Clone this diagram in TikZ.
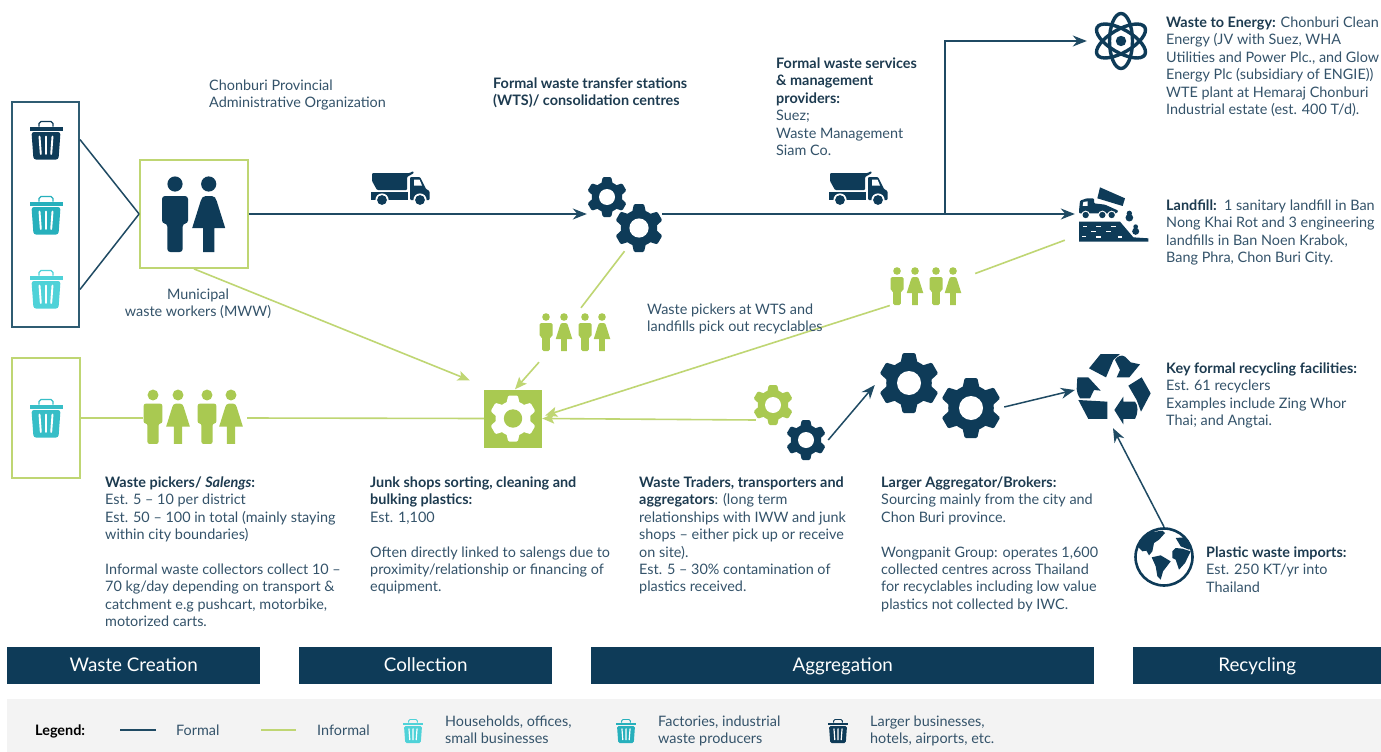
\documentclass[tikz,border=0pt]{standalone}
\usepackage{fontspec}
\setmainfont{Lato}
\usetikzlibrary{arrows.meta,calc}
\definecolor{navy}{HTML}{0E3B58}
\definecolor{formalline}{HTML}{1F4A63}
\definecolor{boxline}{HTML}{2F5C72}
\definecolor{leaf}{HTML}{A9C951}
\definecolor{leafline}{HTML}{BFD673}
\definecolor{teal}{HTML}{27B0BC}
\definecolor{aqua}{HTML}{4FD2D8}
\definecolor{bodytext}{HTML}{34536A}
\definecolor{headtext}{HTML}{1D3B50}
\definecolor{legendbg}{HTML}{F3F3F3}
\tikzset{
  body/.style={font=\fontsize{14.4}{17.45}\selectfont,text=bodytext,anchor=north west,inner sep=0,align=left,yshift=-.8},
  mid/.style={body,anchor=north,align=center},
  bar/.style={fill=navy,text=white,font=\fontsize{18.8}{20}\selectfont,inner sep=0,anchor=north west,minimum height=37,text height=14,text depth=2},
  holder/.style={inner sep=0,minimum width=#1},
  formal/.style={draw=formalline,line width=1.5},
  informal/.style={draw=leafline,line width=1.6},
  fhead/.style={-{Stealth[length=14,width=11]}},
  ihead/.style={-{Stealth[length=12,width=10,inset=2.5]}},
  formalbox/.style={draw=boxline,line width=1.9,inner sep=0},
  informalbox/.style={draw=leafline,line width=1.8,inner sep=0}
}
\newcommand{\bh}[1]{\textcolor{headtext}{\textbf{#1}}}
\newcommand{\st}{\strut}
\newcommand{\binicon}[4]{\begin{scope}[shift={(#1,#2)},scale=#4]
  \fill[#3] (-16.5,-13.5) rectangle (16.5,-9.5);
  \draw[#3,line width=1.4*#4] (-7,-13.5) -- (-7,-16.5) -- (-5,-18.5) -- (5,-18.5) -- (7,-16.5) -- (7,-13.5);
  \fill[#3,rounded corners=2.5*#4] (-14.5,-8) -- (14.5,-8) -- (12.5,19.5) -- (-12.5,19.5) -- cycle;
  \draw[white,line width=1.9*#4,line cap=round] (-6.5,-3.5) -- (-5.2,14) (0,-3.5) -- (0,14) (6.5,-3.5) -- (5.2,14);
\end{scope}}
\newcommand{\gearicon}[5]{\begin{scope}[shift={(#1,#2)},scale=#3]
  \fill[#4] (0,0) circle (.76);
  \foreach \a in {0,60,...,300}{
    \fill[#4,rotate=\a,rounded corners=1.2] (-.3,-.6) -- (-.21,-1) -- (.21,-1) -- (.3,-.6) -- cycle;}
  \fill[#5] (0,0) circle (.40);
\end{scope}}
\newcommand{\manicon}[4]{\begin{scope}[shift={(#1,#2)},scale=#3]
  \fill[#4] (0,0) circle (7.6);
  \fill[#4,rounded corners=3*#3] (-13,12) -- (13,12) -- (13,39.5) -- (7.7,39.5) -- (7.7,68) -- (-7.7,68) -- (-7.7,39.5) -- (-13,39.5) -- cycle;
\end{scope}}
\newcommand{\womanicon}[4]{\begin{scope}[shift={(#1,#2)},scale=#3]
  \fill[#4] (0,0) circle (7.6);
  \fill[#4] (-3,12) -- (3,12) .. controls (6,12) and (7,14) .. (8,17) -- (16.5,44) -- (5.7,44) -- (5.7,68) -- (-5.7,68) -- (-5.7,44) -- (-16.5,44) -- (-8,17) .. controls (-7,14) and (-6,12) .. (-3,12) -- cycle;
\end{scope}}
\newcommand{\crowd}[7]{% head y, x1..x4, scale
  \manicon{#2}{#1}{#6}{#7}\womanicon{#3}{#1}{#6}{#7}\manicon{#4}{#1}{#6}{#7}\womanicon{#5}{#1}{#6}{#7}}
\newcommand{\truckicon}[2]{\begin{scope}[shift={(#1,#2)}]
  \fill[navy,rounded corners=1] (12,13) -- (50,13) -- (53,11) -- (54,13) -- (47,17) -- (47,30) -- (17,30) -- (12,21) -- cycle;
  \fill[navy] (11,32) -- (48,32) -- (48,40) -- (11,40) -- cycle;
  \fill[navy,rounded corners=1] (50,17) -- (60,17) -- (66,29) -- (69.5,31) -- (69.5,40) -- (50,40) -- cycle;
  \fill[white] (54,19.5) -- (59.5,19.5) -- (62,25.5) -- (54,25.5) -- cycle;
  \fill[white] (22,40) circle (6.6) (60,40) circle (6.6);
  \fill[navy] (22,40) circle (4.9) (60,40) circle (4.9);
\end{scope}}
\begin{document}
\begin{tikzpicture}[x=1pt,y=-1pt]
\useasboundingbox (0,0) rectangle (1381,752);
\fill[white] (0,0) rectangle (1381,752);
% holders
\node[formalbox,minimum width=67,minimum height=225] (box1) at (45.5,214.5) {};
\node[informalbox,minimum width=108,minimum height=108] (box2) at (194,214) {};
\node[informalbox,minimum width=68,minimum height=120] (box3) at (46,418) {};
\node[fill=leaf,inner sep=0,minimum width=58,minimum height=58] (junk) at (513,418.5) {};
\node[holder=75,minimum height=74] (wts) at (624.5,215) {};
\node[holder=64,minimum height=58] (atom) at (1121,41) {};
\node[holder=71,minimum height=56] (landfill) at (1112.5,215) {};
\node[holder=100,minimum height=54] (crowdA) at (193,418) {};
\node[holder=72,minimum height=40] (crowdB) at (575,333) {};
\node[holder=72,minimum height=40] (crowdC) at (926,286.5) {};
\node[holder=73,minimum height=76] (traders) at (789.5,423) {};
\node[holder=122,minimum height=86] (large) at (940,395) {};
\node[holder=76,minimum height=76] (recycle) at (1113,388) {};
\node[holder=60,minimum height=60] (globe) at (1164,557) {};
\coordinate (split) at (945,214);
% informal connectors
\draw[informal] (box3.east) -- (crowdA.west);
\draw[informal] ([shift={(4,0)}]crowdA.east) -- (junk.west);
\draw[informal,ihead] (box2.south) -- ([shift={(-14,-9)}]junk.north west);
\draw[informal] ([shift={(0,-1)}]wts.south) -- ([shift={(6,-5)}]crowdB.north);
\draw[informal,ihead] ([shift={(-36,9)}]crowdB.south) -- ([shift={(2,0)}]junk.north);
\draw[informal,ihead] ([shift={(3,-3)}]traders.west) -- (junk.east);
\draw[informal] ([shift={(13,-13)}]crowdC.east) -- ([shift={(-12,-3)}]landfill.south west);
\draw[informal,ihead] ([shift={(0,19)}]crowdC.west) -- ([shift={(3,-3)}]junk.east);
% formal connectors
\draw[formal] ([shift={(0,-75)}]box1.east) -- (box2.west);
\draw[formal] ([shift={(0,75)}]box1.east) -- (box2.west);
\draw[formal,fhead] (box2.east) -- ([shift={(0,-1)}]wts.west);
\draw[formal,fhead] ([shift={(0,-1)}]wts.east) -- ([shift={(-2,-1)}]landfill.west);
\draw[formal,fhead] (split) |- ([shift={(-2,0)}]atom.west);
\draw[formal,fhead] ([shift={(2,17)}]traders.east) -- ([shift={(-4,-10)}]large.west);
\draw[formal,fhead] ([shift={(3,12)}]large.east) -- ([shift={(0,2)}]recycle.west);
\draw[formal,fhead] (globe.north) -- ([shift={(0,2)}]recycle.south);
% bins
\binicon{46}{140}{navy}{1}
\binicon{46}{215}{teal}{1}
\binicon{46}{289}{aqua}{1}
\binicon{46}{418}{teal!60!aqua}{1}
% people
\manicon{175}{184}{1}{navy}
\womanicon{208.7}{184}{1}{navy}
\crowd{395}{153}{178}{207}{231}{.72}{leaf}
\crowd{317}{546}{564}{585}{602}{.5}{leaf}
\crowd{271}{897}{915}{936}{953}{.5}{leaf}
% trucks
\truckicon{360}{160}
\truckicon{818}{160}
% gears
\gearicon{607}{197}{20}{navy}{white}
\gearicon{639}{228}{24}{navy}{white}
\gearicon{513}{418.5}{23}{white}{leaf}
\gearicon{773}{405}{20}{leaf}{white}
\gearicon{806}{440}{20}{navy}{white}
\gearicon{909}{383}{30}{navy}{white}
\gearicon{971}{408}{30}{navy}{white}
% atom
\begin{scope}[shift={(atom.center)}]
  \foreach \a in {90,30,150}{\draw[navy,line width=3.4,rotate=\a] (0,0) ellipse (27.5 and 11.5);}
  \fill[navy] (0,0) circle (5.2);
\end{scope}
% landfill
\begin{scope}[shift={(1070,180)},scale=.3333]
  \fill[navy] (90,22) -- (165,55) -- (158,78) -- (82,55) -- cycle;
  \fill[navy,rounded corners=1] (27,92) -- (30,62) -- (50,55) -- (72,55) -- (72,70) -- (105,74) -- (145,92) -- (140,100) -- (27,100) -- cycle;
  \fill[white] (40,66) -- (53,64) -- (53,78) -- (38,78) -- cycle;
  \fill[white] (47,105) circle (13) (97,105) circle (13) (125,105) circle (13);
  \fill[navy] (47,105) circle (9.5) (97,105) circle (9.5) (125,105) circle (9.5);
  \fill[navy] (27,125) -- (150,125) -- (190,172) -- (235,175) -- (235,185) -- (27,185) -- cycle;
  \foreach \p in {(45,140),(85,140),(130,140),(70,155),(115,155),(42,170),(85,172),(150,172)}{\fill[white] \p ++(-7,-2.5) rectangle ++(14,5);}
  \fill[navy] (178,100) circle (8) (178,113) circle (11.5) (197,140) circle (7) (197,154) circle (10.5);
\end{scope}
% recycle
\begin{scope}[shift={(1070,345)},scale=.3333]
  \fill[navy] (57,70) -- (92,27) -- (150,27) -- (130,45) -- (108,97) -- cycle;
  \fill[navy] (135,45) .. controls (142,33) and (155,28) .. (165,35) -- (182,52) -- (210,58) -- (178,97) -- (140,97) -- (150,75) -- cycle;
  \fill[navy] (175,122) -- (215,97) -- (242,145) -- (213,200) -- (200,165) -- cycle;
  \fill[navy] (160,155) -- (160,170) -- (195,170) .. controls (205,180) and (205,205) .. (195,222) -- (160,222) -- (160,238) -- (133,195) -- cycle;
  \fill[navy] (25,165) -- (112,170) -- (112,222) -- (55,222) -- cycle;
  \fill[navy] (22,97) -- (55,97) -- (92,137) -- (72,135) -- (60,160) -- (30,160) .. controls (24,150) and (20,142) .. (20,132) -- cycle;
\end{scope}
% globe
\begin{scope}[shift={(globe.center)}]
  \draw[navy,line width=2.6] (0,0) circle (28.5);
  \clip (0,0) circle (28);
  \begin{scope}[shift={(-38.3,-39)},scale=.3333]
    \fill[navy] (35,75) -- (60,45) -- (110,38) -- (118,45) -- (100,65) -- (85,75) -- (80,100) -- (70,112) -- (62,98) -- (50,100) -- (35,85) -- cycle;
    \fill[navy] (78,118) -- (105,112) -- (135,130) -- (112,160) -- (105,185) -- (95,175) -- (90,145) -- cycle;
    \fill[navy] (140,100) -- (150,90) -- (170,92) -- (195,100) -- (178,135) -- (160,155) -- (150,125) -- (140,120) -- cycle;
    \fill[navy] (150,60) -- (175,58) -- (205,85) -- (190,95) -- (165,85) -- cycle;
  \end{scope}
\end{scope}
% texts
\node[body] (t1) at (209,77) {\st Chonburi Provincial\\Administrative Organization};
\node[body] (t2) at (493,75) {\st\bh{Formal waste transfer stations}\\\bh{(WTS)/ consolidation centres}};
\node[body] (t3) at (776,55) {\st\bh{Formal waste services}\\\bh{\& management}\\\bh{providers:}\\Suez;\\Waste Management\\Siam Co.};
\node[body] (t4) at (1166,14) {\st\bh{Waste to Energy:} Chonburi Clean\\Energy (JV with Suez, WHA\\Utilities and Power Plc., and Glow\\Energy Plc (subsidiary of ENGIE))\\WTE plant at Hemaraj Chonburi\\Industrial estate (est. 400 T/d).};
\node[body] (t5) at (1166,197) {\st\bh{Landfill:}\ \ 1 sanitary landfill in Ban\\Nong Khai Rot and 3 engineering\\landfills in Ban Noen Krabok,\\Bang Phra, Chon Buri City.};
\node[body] (t6) at (1166,360) {\st\bh{Key formal recycling facilities:}\\Est. 61 recyclers\\Examples include Zing Whor\\Thai; and Angtai.};
\node[body] (t7) at (1206,544) {\st\bh{Plastic waste imports:}\\Est. 250 KT/yr into\\Thailand};
\node[mid] (t8) at (198,286) {\st Municipal\\waste workers (MWW)};
\node[body] (t9) at (647,301) {\st Waste pickers at WTS and\\landfills pick out recyclables};
\node[body] (t10) at (105,474) {\st\bh{Waste pickers/ \textit{Salengs}:}\\Est. 5 -- 10 per district\\Est. 50 -- 100 in total (mainly staying\\within city boundaries)\\[17.45pt]Informal waste collectors collect 10 --\\70 kg/day depending on transport \&\\catchment e.g pushcart, motorbike,\\motorized carts.};
\node[body] (t11) at (370,474) {\st\bh{Junk shops sorting, cleaning and}\\\bh{bulking plastics:}\\Est. 1,100\\[17.45pt]Often directly linked to salengs due to\\proximity/relationship or financing of\\equipment.};
\node[body] (t12) at (639,474) {\st\bh{Waste Traders, transporters and}\\\bh{aggregators}: (long term\\relationships with IWW and junk\\shops -- either pick up or receive\\on site).\\Est. 5 -- 30\% contamination of\\plastics received.};
\node[body] (t13) at (881,474) {\st\bh{Larger Aggregator/Brokers:}\\Sourcing mainly from the city and\\Chon Buri province.\\[17.45pt]Wongpanit Group: operates 1,600\\collected centres across Thailand\\for recyclables including low value\\plastics not collected by IWC.};
% stage bars
\node[bar,minimum width=253] (s1) at (7,647) {Waste Creation};
\node[bar,minimum width=253] (s2) at (299,647) {Collection};
\node[bar,minimum width=503] (s3) at (591,647) {Aggregation};
\node[bar,minimum width=248] (s4) at (1133,647) {Recycling};
% legend
\fill[legendbg] (7,699) rectangle (1381,752);
\node[body,text=black] (l0) at (35,722) {\st\textbf{Legend:}};
\coordinate (fa) at (120,730); \coordinate (fb) at (156,730);
\coordinate (ia) at (261,730); \coordinate (ib) at (296,730);
\draw[formal] (fa) -- (fb);
\draw[informal] (ia) -- (ib);
\node[body] (l1) at (176,722) {\st Formal};
\node[body] (l2) at (317,722) {\st Informal};
\binicon{413}{731}{aqua}{.62}
\node[body] (l3) at (445,713) {\st Households, offices,\\small businesses};
\binicon{626}{731}{teal}{.62}
\node[body] (l4) at (658,713) {\st Factories, industrial\\waste producers};
\binicon{838}{731}{navy}{.62}
\node[body] (l5) at (870,713) {\st Larger businesses,\\hotels, airports, etc.};
\end{tikzpicture}
\end{document}
